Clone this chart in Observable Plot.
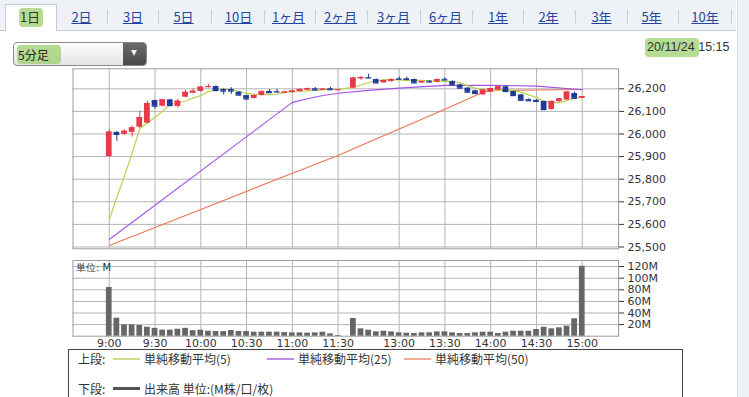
<!DOCTYPE html>
<html><head><meta charset="utf-8">
<script src="https://cdn.jsdelivr.net/npm/d3@7"></script>
<script src="https://cdn.jsdelivr.net/npm/@observablehq/plot@0.6"></script>
<style>
body{margin:0;background:#fff;font-family:"Noto Sans CJK JP","DejaVu Sans",sans-serif;}
#root{position:relative;width:749px;height:397px;overflow:hidden;background:#fff;}
.tabbar{position:absolute;left:0;top:0;width:736px;height:30px;background:#eef1f6;border-bottom:1px solid #c6ccd6;}
.tab{position:absolute;top:8px;font-size:13px;line-height:18px;color:#2446a0;text-decoration:underline;white-space:nowrap;transform:translateX(-50%);}
.sep{position:absolute;top:10px;width:1px;height:14px;background:#c9ced8;}
.seltab{position:absolute;left:5px;top:4px;width:52px;height:27px;background:#fff;border:1px solid #c6ccd6;border-bottom:none;box-sizing:border-box;}
.hl{position:absolute;background:rgba(150,205,100,0.7);border-radius:4px;}
.drop{position:absolute;left:13px;top:42px;width:134px;height:24px;box-sizing:border-box;border:1px solid #8a8a8a;border-radius:4px;background:linear-gradient(#fdfdfd,#e4e4e4);overflow:hidden;}
.dropbtn{position:absolute;right:0;top:0;width:23px;height:100%;background:linear-gradient(#6a6a6a,#4a4a4a);}
.scroll{position:absolute;left:737px;top:0;width:12px;height:397px;background:#eef1f6;border-left:1px solid #dde2ea;}
.legend{position:absolute;left:68px;top:349px;width:615px;height:60px;border:1px solid #444;box-sizing:border-box;font-size:12px;color:#333;}
.lg{position:absolute;white-space:nowrap;line-height:15px;}
.sw{position:absolute;height:2px;}
</style></head>
<body><div id="root"></div>
<script>
// ---------- data ----------
const tabLabels = ["1日","2日","3日","5日","10日","1ヶ月","2ヶ月","3ヶ月","6ヶ月","1年","2年","3年","5年","10年"];
const times = ["9:00","9:05","9:10","9:15","9:20","9:25","9:30","9:35","9:40","9:45","9:50","9:55","10:00","10:05","10:10","10:15","10:20","10:25","10:30","10:35","10:40","10:45","10:50","10:55","11:00","11:05","11:10","11:15","11:20","11:25","11:30",
"12:30","12:35","12:40","12:45","12:50","12:55","13:00","13:05","13:10","13:15","13:20","13:25","13:30","13:35","13:40","13:45","13:50","13:55","14:00","14:05","14:10","14:15","14:20","14:25","14:30","14:35","14:40","14:45","14:50","14:55","15:00"];
const open = [25900,26007,25998,26007,26030,26048,26148,26123,26151,26122,26163,26180,26188,26206,26210,26197,26197,26185,26170,26157,26170,26188,26188,26182,26184,26188,26194,26200,26195,26200,26196,
26203,26244,26250,26241,26226,26232,26244,26244,26241,26226,26234,26229,26242,26232,26217,26203,26191,26173,26185,26194,26209,26188,26173,26152,26149,26144,26108,26143,26150,26179,26158];
const high = [26019,26010,26018,26035,26101,26145,26150,26153,26153,26154,26193,26200,26209,26220,26213,26200,26205,26188,26172,26172,26190,26197,26198,26190,26194,26200,26203,26206,26202,26207,26197,
26252,26254,26265,26244,26238,26244,26252,26252,26243,26234,26237,26243,26248,26236,26220,26206,26194,26196,26203,26212,26213,26190,26175,26156,26152,26146,26146,26157,26188,26186,26166];
const low = [25898,25968,25995,25986,26025,26045,26110,26120,26120,26115,26160,26178,26186,26203,26188,26173,26175,26168,26150,26155,26168,26180,26182,26178,26182,26186,26192,26192,26192,26193,26195,
26200,26238,26246,26222,26224,26230,26240,26238,26224,26224,26228,26227,26236,26215,26200,26182,26176,26171,26183,26192,26186,26168,26147,26144,26141,26106,26106,26141,26148,26153,26156];
const close = [26008,25998,26012,26027,26072,26134,26123,26151,26126,26145,26184,26189,26207,26210,26192,26190,26190,26172,26155,26170,26188,26183,26186,26185,26190,26197,26200,26195,26198,26196,26196,
26247,26250,26248,26226,26236,26241,26242,26241,26226,26232,26230,26241,26239,26217,26203,26185,26179,26194,26200,26209,26188,26170,26149,26147,26144,26108,26144,26155,26185,26158,26165];
const volume = [84,31,19.5,19.5,18.5,15.5,13.5,10.5,10.5,12,13.5,9.5,10.3,8.6,8,8,9.8,8,8,6.9,6.9,6.9,6.9,6.3,5.7,5.7,5.2,5.7,6.9,4,1.2,
30.5,12.7,10.4,7.5,8.6,7.5,5.8,5.2,4.6,5.8,5.8,7.5,7.5,5.8,4.6,4.6,5.8,6.9,6.9,4.6,6.9,8.6,8.6,8.6,11.5,15.5,12.7,14.4,17.3,30,120.5];
const ma5 = [25620,25720,25815,25915,26023,26049,26074,26101,26131,26136,26146,26159,26170,26187,26196,26198,26196,26189,26180,26175,26175,26174,26176,26184,26186,26188,26191,26193,26196,26197,26197,
26207,26217,26228,26234,26241,26240,26239,26237,26238,26237,26235,26234,26233,26232,26226,26213,26203,26196,26193,26194,26194,26193,26184,26173,26161,26144,26139,26139,26147,26158,26163];
const ma25Times = ["9:00","11:00","11:10","11:20","11:30","12:40","13:00","13:30","14:00","14:30","15:00"];
const ma25 = [25533,26140,26156,26170,26180,26193,26203,26215,26216,26212,26196];
const ma50Times = ["9:00","10:00","11:00","11:30","12:30","13:30","13:55","14:00","14:30","15:00"];
const ma50 = [25507,25666,25826,25905,25935,26110,26185,26192,26195,26197];
const xTicks = ["9:00","9:30","10:00","10:30","11:00","11:30","13:00","13:30","14:00","14:30","15:00"];
const priceTicks = [25500,25600,25700,25800,25900,26000,26100,26200];
const volTicks = [20,40,60,80,100,120];

// ---------- layout ----------
const root = document.getElementById("root");
const tabCenters = [30,81.5,133,183.5,238.5,288.5,340.5,393.5,445.5,498,548.5,601.5,651.5,705];
let html = `<div class="tabbar"></div><div class="seltab"></div><div class="scroll"></div>`;
html += `<div class="hl" style="left:19px;top:8px;width:24px;height:19px"></div>`;
tabLabels.forEach((t,i)=>{
  const c = tabCenters[i];
  html += `<div class="tab" style="left:${c}px;${i===0?'color:#333;text-decoration:none':''}">${t}</div>`;
  if (i>0 && i<tabLabels.length-1) html += `<div class="sep" style="left:${(c+tabCenters[i+1])/2}px"></div>`;
});
html += `<div class="sep" style="left:731px"></div>`;
html += `<div class="drop"><div class="hl" style="left:3px;top:2px;width:44px;height:19px"></div><div style="position:absolute;left:4px;top:3px;font-size:12px;line-height:17px;color:#222">5分足</div><div class="dropbtn"><div style="position:absolute;left:8px;top:7px;width:0;height:0;border-left:3.5px solid transparent;border-right:3.5px solid transparent;border-top:6px solid #eee"></div></div></div>`;
html += `<div class="hl" style="left:645px;top:38px;width:54px;height:19px"></div>`;
html += `<div style="position:absolute;left:647px;top:39px;font-family:'Liberation Sans',sans-serif;font-size:12.5px;line-height:17px;color:#333">20/11/24 15:15</div>`;
html += `<div id="price" style="position:absolute;left:0;top:62px"></div>`;
html += `<div id="vol" style="position:absolute;left:0;top:255px"></div>`;
html += `<div class="legend">
<div class="lg" style="left:9px;top:1px">上段:</div>
<div class="sw" style="left:44px;top:8px;width:27px;background:#cfdc8c"></div>
<div class="lg" style="left:75px;top:1px">単純移動平均(5)</div>
<div class="sw" style="left:198px;top:8px;width:27px;background:#bd8ce6"></div>
<div class="lg" style="left:229px;top:1px">単純移動平均(25)</div>
<div class="sw" style="left:335px;top:8px;width:27px;background:#eeac90"></div>
<div class="lg" style="left:366px;top:1px">単純移動平均(50)</div>
<div class="lg" style="left:9px;top:31px">下段:</div>
<div class="sw" style="left:44px;top:37px;width:27px;height:3px;background:#555"></div>
<div class="lg" style="left:75px;top:31px">出来高 単位:(M株/口/枚)</div>
</div>`;
root.innerHTML = html;

// ---------- chart ----------
const xDomain = [...times.slice(0,31), " ", ...times.slice(31)];
const bars = times.map((t,i)=>({t, o:open[i], h:high[i], l:low[i], c:close[i], v:volume[i], m5:ma5[i]}));
const m25 = ma25Times.map((t,i)=>({t, v:ma25[i]}));
const m50 = ma50Times.map((t,i)=>({t, v:ma50[i]}));
const RED = "#e8394a", BLUE = "#1d3c98";
const col = d => d.c >= d.o ? RED : BLUE;
const GRID = "#b4b4b4";
const xOpts = {type:"band", domain:xDomain, paddingInner:0.25, paddingOuter:4.375, align:0.5};
const common = {width:749, marginLeft:72.5, marginRight:131,
  style:{fontFamily:"'DejaVu Sans',sans-serif", fontSize:"11px", color:"#333", background:"transparent", overflow:"visible"}};

const price = Plot.plot({
  ...common, height:192, marginTop:6.3, marginBottom:5.7,
  x:{...xOpts, axis:null},
  y:{domain:[25492,26288.5], ticks:priceTicks, tickFormat:d3.format(","), axis:"right", tickSize:5, tickPadding:4, label:null},
  color:{type:"identity"},
  marks:[
    Plot.ruleY(priceTicks, {stroke:GRID}),
    Plot.ruleX(xTicks, {stroke:GRID}),
    Plot.frame({stroke:"#9c9c9c"}),
    Plot.line(m50, {x:"t", y:"v", stroke:"#ec7452", strokeWidth:1.1}),
    Plot.line(m25, {x:"t", y:"v", stroke:"#a452e6", strokeWidth:1.1}),
    Plot.line(bars, {x:"t", y:"m5", stroke:"#bcd24e", strokeWidth:1.2}),
    Plot.ruleX(bars, {x:"t", y1:"l", y2:"h", stroke:col, strokeWidth:1}),
    Plot.barY(bars, {x:"t", y1:"o", y2:"c", fill:col}),
    Plot.tickY(bars, {x:"t", y:"c", stroke:col, strokeWidth:1.2})
  ]
});
document.getElementById("price").appendChild(price);

const vol = Plot.plot({
  ...common, height:100, marginTop:5, marginBottom:19.3,
  x:{...xOpts, ticks:xTicks, tickSize:0, tickPadding:3, label:null},
  y:{domain:[0,130.5], ticks:volTicks, tickFormat:d=>d+"M", axis:"right", tickSize:5, tickPadding:4, label:null},
  marks:[
    Plot.ruleY(volTicks, {stroke:GRID}),
    Plot.ruleX(xTicks, {stroke:GRID}),
    Plot.frame({stroke:"#9c9c9c"}),
    Plot.barY(bars, {x:"t", y:"v", fill:"#666"}),
    Plot.text(["単位: M"], {frameAnchor:"top-left", dx:3, dy:3, textAnchor:"start", lineAnchor:"top", fontSize:10, fill:"#333"})
  ]
});
document.getElementById("vol").appendChild(vol);
</script></body></html>
